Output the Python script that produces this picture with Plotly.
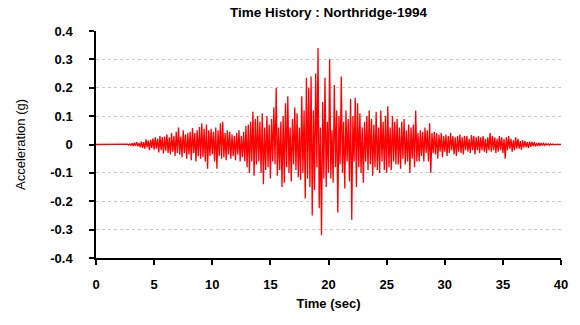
import numpy as np
import plotly.graph_objects as go

# Time step of the record (s) and acceleration values (g), one row per second
dt = 0.1
accel_rows = [
    [0, 0, 0, 0, 0, 0, 0, 0, 0, 0],
    [0, 0, 0, 0, 0, 0, 0, 0, 0, 0],
    [0, 0, 0, 0, 0, 0.001, -0.001, 0.001, -0.002, 0.002],
    [-0.003, 0.004, -0.005, 0.006, -0.004, 0.008, -0.006, 0.005, -0.009, 0.010],
    [-0.012, 0.008, -0.015, 0.018, -0.010, 0.014, -0.020, 0.016, -0.012, 0.022],
    [-0.018, 0.025, -0.015, 0.020, -0.028, 0.030, -0.020, 0.026, -0.032, 0.028],
    [-0.022, 0.035, -0.030, 0.025, -0.035, 0.040, -0.025, 0.030, -0.040, 0.045],
    [-0.030, 0.060, -0.035, 0.028, -0.045, 0.050, -0.030, 0.035, -0.050, 0.040],
    [-0.035, 0.045, -0.055, 0.058, -0.030, 0.040, -0.060, 0.050, -0.040, 0.062],
    [-0.050, 0.075, -0.045, 0.055, -0.060, 0.070, -0.085, 0.050, -0.040, 0.055],
    [-0.035, 0.045, -0.060, 0.060, -0.085, 0.050, -0.040, 0.075, -0.050, 0.080],
    [-0.045, 0.040, -0.055, 0.050, -0.035, 0.045, -0.050, 0.035, -0.040, 0.030],
    [-0.055, 0.040, -0.035, 0.050, -0.060, 0.030, -0.045, 0.045, -0.060, 0.065],
    [-0.080, 0.070, -0.100, 0.080, -0.060, 0.115, -0.110, 0.090, -0.070, 0.100],
    [-0.060, 0.080, -0.100, 0.110, -0.140, 0.060, -0.090, 0.100, -0.080, 0.070],
    [-0.120, 0.090, -0.060, 0.130, -0.070, 0.200, -0.110, 0.060, -0.090, 0.080],
    [-0.150, 0.100, -0.135, 0.145, -0.080, 0.170, -0.100, 0.060, -0.130, 0.090],
    [-0.070, 0.130, -0.090, 0.110, -0.115, 0.060, -0.125, 0.170, -0.100, 0.120],
    [-0.190, 0.235, -0.120, 0.200, -0.150, 0.240, -0.250, 0.120, -0.160, 0.250],
    [-0.080, 0.340, -0.225, 0.060, -0.320, 0.150, -0.120, 0.235, -0.150, 0.080],
    [-0.100, 0.300, -0.120, 0.050, -0.135, 0.210, -0.080, 0.120, -0.240, 0.100],
    [-0.070, 0.240, -0.100, 0.080, -0.155, 0.120, -0.060, 0.090, -0.130, 0.160],
    [-0.265, 0.100, -0.060, 0.165, -0.150, 0.145, -0.080, 0.110, -0.100, 0.060],
    [-0.135, 0.080, -0.060, 0.100, -0.090, 0.120, -0.070, 0.090, -0.110, 0.070],
    [-0.080, 0.115, -0.090, 0.060, -0.100, 0.120, -0.060, 0.080, -0.090, 0.100],
    [-0.100, 0.135, -0.080, 0.060, -0.090, 0.100, -0.060, 0.080, -0.070, 0.090],
    [-0.070, 0.060, -0.085, 0.080, -0.050, 0.090, -0.070, 0.050, -0.060, 0.070],
    [-0.100, 0.060, -0.050, 0.070, -0.080, 0.120, -0.060, 0.040, -0.060, 0.050],
    [-0.040, 0.045, -0.060, 0.060, -0.030, 0.050, -0.060, 0.075, -0.100, 0.040],
    [-0.030, 0.045, -0.035, 0.040, -0.050, 0.035, -0.025, 0.040, -0.045, 0.030],
    [-0.025, 0.035, -0.040, 0.030, -0.030, 0.040, -0.020, 0.030, -0.035, 0.025],
    [-0.040, 0.030, -0.025, 0.035, -0.030, 0.025, -0.035, 0.030, -0.020, 0.030],
    [-0.025, 0.020, -0.030, 0.033, -0.020, 0.030, -0.035, 0.025, -0.020, 0.030],
    [-0.030, 0.025, -0.020, 0.030, -0.025, 0.020, -0.030, 0.025, -0.020, 0.040],
    [-0.025, 0.030, -0.020, 0.025, -0.030, 0.020, -0.025, 0.030, -0.020, 0.025],
    [-0.030, 0.020, -0.050, 0.025, -0.020, 0.030, -0.015, 0.020, -0.025, 0.015],
    [-0.020, 0.025, -0.015, 0.020, -0.015, 0.012, -0.018, 0.015, -0.010, 0.012],
    [-0.010, 0.008, -0.012, 0.010, -0.008, 0.009, -0.006, 0.008, -0.006, 0.005],
    [-0.005, 0.006, -0.004, 0.005, -0.003, 0.004, -0.003, 0.003, -0.002, 0.003],
    [-0.002, 0.002, -0.001, 0.002, -0.001, 0.001, -0.001, 0.001, 0, 0],
    [0],
]

y_tick_vals = [0.4, 0.3, 0.2, 0.1, 0, -0.1, -0.2, -0.3, -0.4]
y_tick_text = ["0.4", "0.3", "0.2", "0.1", "0", "-0.1", "-0.2", "-0.3", "-0.4"]
x_tick_vals = [0, 5, 10, 15, 20, 25, 30, 35, 40]
x_tick_text = ["0", "5", "10", "15", "20", "25", "30", "35", "40"]

accel = [v for row in accel_rows for v in row]
time = [round(i * dt, 2) for i in range(len(accel))]

fig = go.Figure()
fig.add_trace(go.Scatter(x=time, y=accel, mode="lines",
                         line=dict(color="#FF0000", width=1.3),
                         showlegend=False))

font_family = "Liberation Sans"
fig.update_layout(
    width=580, height=325,
    margin=dict(l=96, r=14, t=31, b=67),
    paper_bgcolor="white", plot_bgcolor="white",
    font=dict(family=font_family, color="black"),
    title=dict(text="<b>Time History : Northridge-1994</b>",
               x=0.5, xref="paper", xanchor="center",
               y=1 - 12 / 325, yref="container", yanchor="middle",
               font=dict(size=13.5, color="black")),
)
fig.update_xaxes(
    range=[0, 40], tickvals=x_tick_vals, ticktext=x_tick_text,
    showgrid=False, zeroline=False,
    showline=True, linecolor="black", linewidth=1.5,
    ticks="outside", ticklen=5, tickcolor="black", tickwidth=1.5,
    tickfont=dict(size=13, family=font_family, color="black", weight="bold"),
    ticklabelstandoff=9,
    title=dict(text="<b>Time (sec)</b>", font=dict(size=13), standoff=8),
)
fig.update_yaxes(
    range=[-0.4, 0.4], tickvals=y_tick_vals, ticktext=y_tick_text,
    showgrid=True, gridcolor="#C8C8C8", griddash="dot", gridwidth=1,
    zeroline=False,
    showline=True, linecolor="black", linewidth=1.5,
    ticks="outside", ticklen=5, tickcolor="black", tickwidth=1.5,
    tickfont=dict(size=13, family=font_family, color="black", weight="bold"),
    ticklabelstandoff=14,
    title=dict(text="Acceleration (g)", font=dict(size=13), standoff=22),
)

fig.write_html("out.html")
